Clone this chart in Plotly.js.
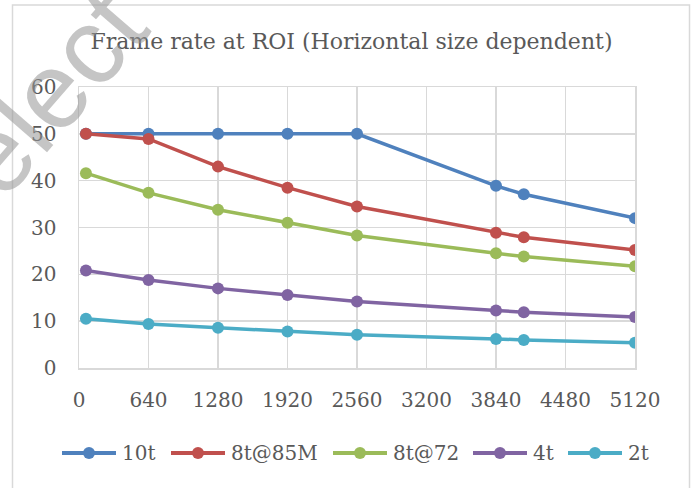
<!DOCTYPE html>
<html>
<head>
<meta charset="utf-8">
<script src="https://cdn.plot.ly/plotly-3.0.1.min.js"></script>
<style>html,body{margin:0;padding:0;background:#fff;}#chart{width:696px;height:488px;}</style>
</head>
<body>
<div id="chart"></div>
<script>
const xSizes = [64, 640, 1280, 1920, 2560, 3840, 4096, 5120];
const seriesNames = ["10t", "8t@85M", "8t@72", "4t", "2t"];
const s10t   = [50, 50, 50, 50, 50, 38.9, 37.1, 32.0];
const s8t85M = [50, 48.9, 43.0, 38.5, 34.5, 28.9, 27.9, 25.2];
const s8t72  = [41.6, 37.4, 33.8, 31.0, 28.3, 24.5, 23.8, 21.7];
const s4t    = [20.8, 18.8, 17.0, 15.6, 14.2, 12.3, 11.9, 10.9];
const s2t    = [10.5, 9.4, 8.6, 7.8, 7.1, 6.2, 6.0, 5.4];
const xTicks = [0, 640, 1280, 1920, 2560, 3200, 3840, 4480, 5120];
const yTicks = [0, 10, 20, 30, 40, 50, 60];
const colors = ["#4f81bd", "#c0504d", "#9bbb59", "#8064a2", "#4bacc6"];
const allSeries = [s10t, s8t85M, s8t72, s4t, s2t];

const font = "DejaVu Serif, Liberation Serif, serif";
const txt = "#595959";

const traces = allSeries.map((ys, i) => ({
  x: xSizes, y: ys, name: seriesNames[i], type: "scatter", mode: "lines+markers",
  line: {color: colors[i], width: 3.5},
  marker: {color: colors[i], size: 12},
  showlegend: false
}));

const L = 79, R = 61, T = 87, B = 120;
const W = 696, H = 488;
const pw = W - L - R, ph = H - T - B;
const px = v => (v - L) / pw;
const py = v => (H - B - v) / ph;

// custom legend layout (pixel positions of each entry's symbol start)
const legendStart = [62, 171, 333, 473, 568];
const legendY = 453, symLen = 54;

const shapes = [{type: "rect", xref: "paper", yref: "paper", x0: px(12.5), x1: px(689.5),
                 y0: py(520), y1: py(5), line: {color: "#d9d9d9", width: 1.5}, layer: "below"}];
const annotations = [{text: "Select", xref: "paper", yref: "paper", x: px(26), y: py(120),
                 xanchor: "center", yanchor: "middle", showarrow: false, textangle: -49,
                 font: {family: "Liberation Sans, Arial, sans-serif", size: 108, color: "rgba(150,150,150,0.55)"}}];

seriesNames.forEach((nm, i) => {
  const x0 = legendStart[i];
  shapes.push({type: "line", xref: "paper", yref: "paper", x0: px(x0), x1: px(x0 + symLen),
               y0: py(legendY), y1: py(legendY), line: {color: colors[i], width: 4}});
  shapes.push({type: "circle", xref: "paper", yref: "paper", xsizemode: "pixel", ysizemode: "pixel",
               xanchor: px(x0 + symLen / 2), yanchor: py(legendY), x0: -6, x1: 6, y0: -6, y1: 6,
               fillcolor: colors[i], line: {width: 0}});
  annotations.push({text: nm, xref: "paper", yref: "paper", x: px(x0 + symLen + 4), y: py(legendY),
                    xanchor: "left", yanchor: "middle", showarrow: false,
                    font: {family: font, size: 20, color: txt}});
});

const layout = {
  width: W, height: H,
  margin: {l: L, r: R, t: T, b: B, pad: 0},
  paper_bgcolor: "#fff", plot_bgcolor: "#fff",
  font: {family: font, color: txt, size: 20},
  showlegend: false,
  title: {text: "Frame rate at ROI (Horizontal size dependent)", x: 0.505, xref: "container",
          y: 1 - 41 / H, yref: "container", yanchor: "middle", xanchor: "center",
          font: {family: font, size: 22, color: txt}},
  xaxis: {range: [0, 5120], tickvals: xTicks, ticktext: xTicks.map(String), showgrid: true,
          gridcolor: "#d9d9d9", gridwidth: 1.5, showline: true, linecolor: "#d9d9d9", linewidth: 1.5,
          mirror: true, zeroline: false, ticks: "", ticklabelstandoff: 13,
          tickfont: {family: font, size: 20, color: txt}},
  yaxis: {range: [0, 60], tickvals: yTicks, showgrid: true, gridcolor: "#d9d9d9", gridwidth: 1.5,
          showline: true, linecolor: "#d9d9d9", linewidth: 1.5, mirror: true, zeroline: false,
          ticks: "", ticklabelstandoff: 17, tickfont: {family: font, size: 20, color: txt}},
  shapes: shapes,
  annotations: annotations
};

Plotly.newPlot("chart", traces, layout, {displayModeBar: false, staticPlot: true});
</script>
</body>
</html>
